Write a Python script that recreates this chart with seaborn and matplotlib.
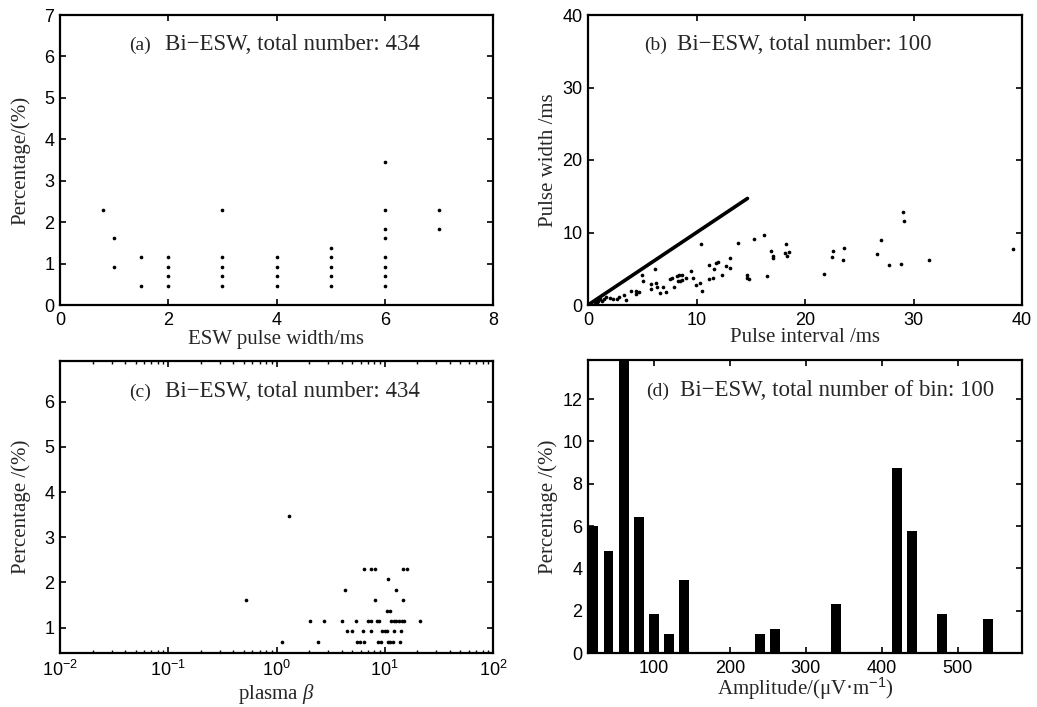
import matplotlib
matplotlib.use("Agg")
import matplotlib.pyplot as plt
import seaborn as sns
from matplotlib.ticker import FixedLocator, LogLocator, NullFormatter

# ---------------- data ----------------
# (a) percentage vs ESW pulse width
a_width = [0.8, 1, 1, 1.5, 1.5, 2, 2, 2, 2, 3, 3, 3, 3, 3, 4, 4, 4, 4,
           5, 5, 5, 5, 5, 6, 6, 6, 6, 6, 6, 6, 6, 7, 7]
a_pct = [2.30, 1.61, 0.92, 1.15, 0.46, 1.15, 0.92, 0.69, 0.46,
         2.30, 1.15, 0.92, 0.69, 0.46, 1.15, 0.92, 0.69, 0.46,
         1.38, 1.15, 0.92, 0.69, 0.46,
         3.46, 2.30, 1.84, 1.61, 1.15, 0.92, 0.69, 0.46, 2.30, 1.84]

# (b) pulse width vs pulse interval
b_interval = [0.2, 0.4, 0.6, 0.87, 0.9, 1.14, 1.33, 1.5, 1.66, 2.0, 2.28, 2.65, 2.86,
              3.32, 3.54, 3.94, 4.4, 4.4, 4.74, 5.02, 5.1, 5.82, 5.85, 6.22, 6.28,
              6.37, 6.62, 6.87, 7.23, 7.54, 7.76, 7.91, 8.19, 8.25, 8.4, 8.5, 8.62,
              8.68, 9.02, 9.48, 9.69, 9.94, 10.34, 10.4, 10.52, 11.14, 11.17, 11.5,
              11.6, 11.76, 11.95, 12.37, 12.68, 13.08, 13.08, 13.85, 14.62, 14.7,
              14.8, 15.27, 16.19, 16.52, 16.9, 17.08, 17.08, 18.16, 18.25, 18.31,
              18.53, 21.73, 22.53, 22.59, 23.51, 23.63, 26.68, 26.96, 27.76, 28.84,
              29.02, 29.08, 31.39, 39.18]
b_width = [0.1, 0.05, 0.4, 0.32, 0.6, 0.87, 0.6, 0.8, 1.06, 0.97, 0.83, 0.83, 1.10,
           1.42, 0.65, 1.89, 1.97, 1.52, 1.75, 4.14, 3.36, 2.85, 2.16, 4.92, 3.08,
           2.44, 1.70, 2.44, 1.75, 3.63, 3.68, 2.53, 4.0, 3.36, 4.1, 3.36, 4.18,
           3.49, 3.72, 4.69, 3.77, 2.76, 2.99, 8.37, 1.97, 3.59, 5.52, 3.68,
           4.92, 5.84, 5.93, 4.1, 5.4, 6.48, 5.15, 8.59, 4.09, 3.7,
           3.6, 9.1, 9.7, 4.05, 7.45, 6.76, 6.5, 7.22, 8.46, 6.8,
           7.36, 4.28, 6.67, 7.45, 6.2, 7.82, 7.08, 8.92, 5.47, 5.7,
           12.87, 11.59, 6.2, 7.77]
b_ref_x = [0, 14.7]
b_ref_y = [0, 14.7]

# (c) percentage vs plasma beta
c_beta = [0.52, 1.12, 1.3, 2.06, 2.44, 2.73, 4.0, 4.33, 4.5, 5.0, 5.43, 5.6, 5.9,
          6.3, 6.4, 6.5, 7.0, 7.4, 7.5, 7.5, 8.1, 8.2, 8.4, 8.75, 8.8, 9.25, 9.5,
          10.1, 10.4, 10.6, 10.7, 10.7, 11.1, 11.2, 11.5, 11.9, 12.2, 12.2, 12.6,
          12.8, 13.6, 13.8, 14.0, 14.3, 14.6, 14.7, 15.2, 16.0, 21.2]
c_pct = [1.61, 0.69, 3.46, 1.15, 0.69, 1.15, 1.15, 1.84, 0.92, 0.92, 1.15, 0.69, 0.69,
         0.92, 2.30, 0.69, 1.15, 1.15, 2.30, 0.92, 1.61, 2.30, 1.15, 0.69, 1.15, 0.69, 0.92,
         0.92, 1.38, 0.92, 2.07, 0.69, 1.38, 0.69, 1.15, 0.69, 1.15, 0.92, 1.84,
         1.15, 1.15, 0.69, 0.92, 1.15, 2.30, 1.61, 1.15, 2.30, 1.15]

# (d) amplitude histogram
d_amp = [20, 40, 60, 80, 100, 120, 140, 240, 260, 340, 420, 440, 480, 540]
d_pct = [5.99, 4.84, 14.5, 6.45, 1.84, 0.92, 3.46, 0.92, 1.15, 2.30, 8.76, 5.76, 1.84, 1.61]

titles = ["Bi\u2212ESW, total number: 434", "Bi\u2212ESW, total number: 100",
          "Bi\u2212ESW, total number: 434", "Bi\u2212ESW, total number of bin: 100"]
tags = ["(a)", "(b)", "(c)", "(d)"]
xlabels = ["ESW pulse width/ms", "Pulse interval /ms", "plasma $\\beta$",
           "Amplitude/(\u03bcV\u00b7m$^{-1}$)"]
ylabels = ["Percentage/(%)", "Pulse width /ms", "Percentage /(%)", "Percentage /(%)"]

# ---------------- style ----------------
sns.set_theme(style="ticks")
plt.rcParams.update({
    "font.family": ["Liberation Sans", "DejaVu Sans"],
    "mathtext.fontset": "custom",
    "mathtext.rm": "Liberation Sans",
    "mathtext.sf": "Liberation Sans",
    "mathtext.it": "Liberation Serif:italic",
    "axes.linewidth": 1.6,
    "axes.edgecolor": "black",
    "axes.facecolor": "white",
    "xtick.direction": "in",
    "ytick.direction": "in",
    "xtick.top": True,
    "ytick.right": True,
    "xtick.major.size": 4.5,
    "ytick.major.size": 4.5,
    "xtick.minor.size": 2.5,
    "xtick.major.width": 1.2,
    "ytick.major.width": 1.2,
    "xtick.minor.width": 1.0,
    "xtick.labelsize": 13,
    "ytick.labelsize": 13,
    "xtick.color": "black",
    "ytick.color": "black",
    "xtick.major.pad": 5,
    "ytick.major.pad": 4,
})

W, H = 1037, 707
fig = plt.figure(figsize=(W / 100, H / 100), dpi=100)
fig.patch.set_facecolor("white")


def box(l, t, r, b):
    return [l / W, 1 - b / H, (r - l) / W, (b - t) / H]


ax_a = fig.add_axes(box(60, 15, 493, 305))
ax_b = fig.add_axes(box(588, 15, 1022, 305))
ax_c = fig.add_axes(box(60, 361, 493, 653))
ax_d = fig.add_axes(box(588, 360, 1022, 653))
axes = [ax_a, ax_b, ax_c, ax_d]

serif = "Liberation Serif"
dot = dict(color="black", s=7, linewidth=0, legend=False)

# (a)
sns.scatterplot(x=a_width, y=a_pct, ax=ax_a, **dot)
ax_a.set_xlim(0, 8)
ax_a.set_ylim(0, 7)
ax_a.xaxis.set_major_locator(FixedLocator([0, 2, 4, 6, 8]))
ax_a.yaxis.set_major_locator(FixedLocator(range(0, 8)))

# (b)
sns.scatterplot(x=b_interval, y=b_width, ax=ax_b, **dot)
sns.lineplot(x=b_ref_x, y=b_ref_y, ax=ax_b, color="black", linewidth=2.6)
ax_b.set_xlim(0, 40)
ax_b.set_ylim(0, 40)
ax_b.xaxis.set_major_locator(FixedLocator([0, 10, 20, 30, 40]))
ax_b.yaxis.set_major_locator(FixedLocator([0, 10, 20, 30, 40]))

# (c)
sns.scatterplot(x=c_beta, y=c_pct, ax=ax_c, **dot)
ax_c.set_xscale("log")
ax_c.set_xlim(1e-2, 1e2)
ax_c.set_ylim(0.44, 6.9)
ax_c.xaxis.set_major_locator(LogLocator(base=10, numticks=10))
ax_c.xaxis.set_minor_locator(LogLocator(base=10, subs=range(2, 10), numticks=50))
ax_c.xaxis.set_minor_formatter(NullFormatter())
ax_c.yaxis.set_major_locator(FixedLocator([1, 2, 3, 4, 5, 6]))

# (d)
sns.barplot(x=d_amp, y=d_pct, ax=ax_d, native_scale=True, orient="x", width=0.65,
            color="black", saturation=1, linewidth=0, errorbar=None)
ax_d.set_xlim(13, 585)
ax_d.set_ylim(0, 13.85)
ax_d.xaxis.set_major_locator(FixedLocator([100, 200, 300, 400, 500]))
ax_d.yaxis.set_major_locator(FixedLocator([0, 2, 4, 6, 8, 10, 12]))

tag_x = [0.159, 0.129, 0.159, 0.135]
main_x = [0.242, 0.205, 0.242, 0.212]
xlab_y = [-0.085, -0.08, -0.1, -0.077]
for i, ax in enumerate(axes):
    for s in ax.spines.values():
        s.set_visible(True)
        s.set_linewidth(1.6)
        s.set_color("black")
    ax.tick_params(which="both", direction="in", top=True, right=True)
    ax.text(tag_x[i], 0.878, tags[i], transform=ax.transAxes, fontsize=14,
            family=serif, va="baseline", ha="left")
    ax.text(main_x[i], 0.878, titles[i], transform=ax.transAxes, fontsize=16.5,
            family=serif, va="baseline", ha="left")
    ax.set_xlabel(xlabels[i], fontsize=15, family=serif)
    ax.set_ylabel(ylabels[i], fontsize=15, family=serif)
    ax.yaxis.set_label_coords(-0.068, 0.5)
    ax.xaxis.set_label_coords(0.5, xlab_y[i])

fig.savefig("out.png", dpi=100, facecolor="white")
